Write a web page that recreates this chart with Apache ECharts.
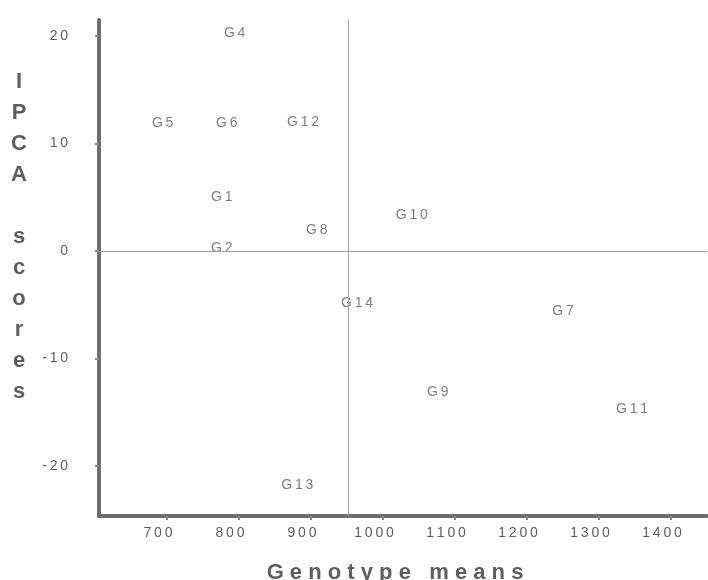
<!DOCTYPE html>
<html>
<head>
<meta charset="utf-8">
<script src="https://cdn.jsdelivr.net/npm/echarts@6/dist/echarts.min.js"></script>
<style>
html,body{margin:0;padding:0;background:#fff;}
#chart{width:708px;height:580px;}
</style>
</head>
<body>
<div id="chart"></div>
<script>
// Genotype labels
const genotypes = ['G1','G2','G4','G5','G6','G7','G8','G9','G10','G11','G12','G13','G14'];
// Genotype means (x)
const genotypeMeans = [776, 776, 794, 694, 783, 1250, 908, 1076, 1040, 1346, 889, 881, 964];
// IPCA scores (y)
const ipcaScores = [5.0, 0.3, 20.3, 11.9, 11.9, -5.6, 1.95, -13.1, 3.3, -14.7, 12.0, -21.8, -4.8];
// Axis ticks
const xTicks = [700, 800, 900, 1000, 1100, 1200, 1300, 1400];
const yTicks = [-20, -10, 0, 10, 20];
// Reference lines
const grandMean = 951.4;
const ipcaZero = 0;
// Axis titles
const xTitle = 'Genotype means';
const yTitle = 'IPCA scores';

const spaced = s => String(s).split('').join('\u2009');
const textColor = '#5e5e5e';
const axisColor = '#6e6e6e';
const font = 'Liberation Sans, Arial, sans-serif';

const data = genotypes.map((g, i) => ({ name: g, value: [genotypeMeans[i], ipcaScores[i]] }));

// vertical stacked title; a blank line between words, two blank lines below to lift the block
const yTitleStacked = yTitle.split(' ').map(w => w.split('').join('\n')).join('\n\n') + '\n\n';

const chart = echarts.init(document.getElementById('chart'), null, { renderer: 'canvas' });
chart.setOption({
  backgroundColor: '#ffffff',
  animation: false,
  grid: { left: 99, top: 20, width: 608, height: 496, containLabel: false, outerBoundsMode: 'none' },
  xAxis: {
    type: 'value',
    min: 605.6,
    max: 1450,
    name: xTitle.split('').join(' '),
    nameLocation: 'middle',
    nameGap: 46,
    nameTextStyle: { color: textColor, fontSize: 22, fontWeight: 'bold', fontFamily: font, padding: [0, 16, 0, 0] },
    axisLine: { show: true, onZero: false, lineStyle: { color: axisColor, width: 4 } },
    axisTick: { show: true, customValues: xTicks, length: 4, lineStyle: { color: '#888', width: 2 } },
    axisLabel: {
      customValues: xTicks,
      formatter: v => spaced(v),
      color: textColor, fontSize: 14, margin: 10,
      padding: [0, 18, 0, 0],
      fontFamily: font
    },
    splitLine: { show: false }
  },
  yAxis: {
    type: 'value',
    min: -24.65,
    max: 21.5,
    name: yTitleStacked,
    nameLocation: 'middle',
    nameRotate: 0,
    nameGap: 80,
    nameTextStyle: {
      color: textColor, fontSize: 22, fontWeight: 'bold', lineHeight: 31,
      align: 'center', verticalAlign: 'middle',
      fontFamily: font
    },
    axisLine: { show: true, onZero: false, lineStyle: { color: axisColor, width: 4 } },
    axisTick: { show: true, customValues: yTicks, length: 4, lineStyle: { color: '#888', width: 2 } },
    axisLabel: {
      customValues: yTicks,
      formatter: v => spaced(v),
      color: textColor, fontSize: 14, margin: 31,
      fontFamily: font
    },
    splitLine: { show: false }
  },
  series: [{
    type: 'scatter',
    data: data,
    symbol: 'circle',
    symbolSize: 2,
    itemStyle: { color: 'rgba(0,0,0,0)' },
    label: {
      show: true,
      position: 'inside',
      formatter: p => spaced(p.name),
      color: textColor,
      fontSize: 14,
      fontFamily: font
    },
    emphasis: { disabled: true },
    markLine: {
      silent: true,
      symbol: 'none',
      label: { show: false },
      lineStyle: { color: '#a0a0a0', width: 1, type: 'solid' },
      data: [{ yAxis: ipcaZero }, { xAxis: grandMean }]
    }
  }]
});
</script>
</body>
</html>
